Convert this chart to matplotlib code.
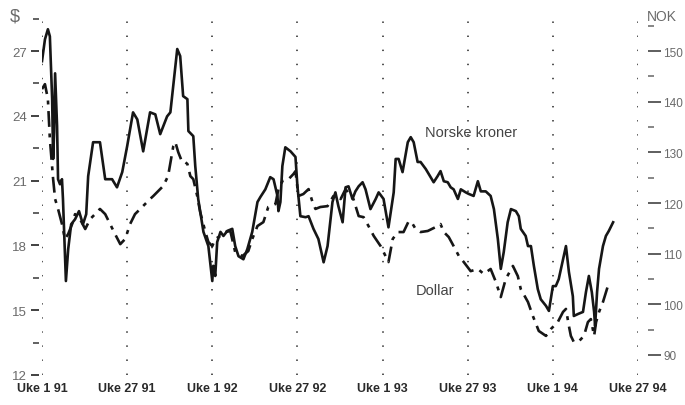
import matplotlib
matplotlib.use("Agg")
import matplotlib.pyplot as plt
from matplotlib.ticker import MultipleLocator

plt.rcParams['font.family'] = ['Liberation Sans', 'DejaVu Sans']

# x in weeks counted from Uke 1 1991
tick_weeks = [0, 26, 52, 78, 104, 130, 156, 182]
tick_labels = ['Uke 1 91', 'Uke 27 91', 'Uke 1 92', 'Uke 27 92',
               'Uke 1 93', 'Uke 27 93', 'Uke 1 94', 'Uke 27 94']

# oil price in norske kroner (right axis)
nok_weeks = [0, 0.9, 1.8, 2.4, 3.1, 3.4, 3.7, 4.0, 4.6, 4.9,
             5.5, 6.1, 6.4, 7.3, 8.0, 8.9, 10.1, 11.3, 12.5, 13.5,
             14.1, 15.6, 17.7, 19.3, 21.4, 22.9, 24.5, 26.0, 27.8, 29.1,
             30.9, 33.0, 34.6, 36.1, 38.2, 39.2, 41.3, 42.2, 43.1, 44.4,
             44.7, 46.2, 46.8, 47.7, 49.3, 50.8, 52.0, 52.3, 52.9, 53.5,
             54.5, 55.4, 56.6, 58.1, 59.0, 60.0, 61.5, 62.7, 64.2, 65.8,
             66.7, 68.2, 69.7, 70.7, 71.9, 72.2, 72.8, 73.4, 74.3, 75.9,
             77.4, 78.0, 78.9, 80.5, 81.4, 82.9, 84.4, 86.0, 87.2, 88.7,
             89.6, 90.5, 91.8, 92.7, 93.6, 94.8, 95.7, 96.7, 97.9, 98.8,
             100.3, 101.9, 102.8, 104.3, 105.8, 107.4, 108.0, 108.9, 110.1, 111.7,
             112.6, 113.5, 114.7, 115.6, 117.2, 118.7, 119.6, 120.8, 121.7, 122.7,
             123.9, 124.8, 125.7, 127.0, 127.9, 129.4, 130.3, 131.8, 133.1, 134.0,
             135.5, 137.0, 138.0, 139.2, 140.1, 141.0, 142.2, 143.2, 144.7, 145.6,
             146.2, 147.7, 148.4, 149.3, 150.2, 151.4, 152.3, 153.9, 154.8, 156.0,
             156.9, 157.8, 160.0, 160.9, 162.1, 162.4, 163.7, 165.2, 166.1, 167.0,
             167.9, 168.6, 168.9, 169.5, 170.1, 171.3, 172.2, 173.1, 174.4]
nok = [148.0, 152.3, 154.3, 152.9, 140.5, 128.7, 134.0, 145.6, 135.2, 124.7,
       123.7, 124.7, 120.8, 104.6, 110.9, 115.8, 116.8, 118.4, 115.8, 117.8,
       125.3, 132.0, 132.0, 124.7, 124.7, 123.1, 126.1, 131.2, 137.9, 136.5,
       130.2, 137.9, 137.5, 133.6, 137.1, 137.9, 150.4, 149.0, 141.1, 140.5,
       134.2, 133.2, 127.3, 120.8, 114.3, 111.5, 104.6, 107.6, 105.6, 112.3,
       114.3, 113.5, 114.5, 114.9, 111.5, 109.5, 108.9, 110.9, 114.3, 120.2,
       121.2, 122.7, 125.1, 124.7, 121.4, 118.4, 120.2, 127.3, 131.0, 130.2,
       129.1, 123.3, 117.4, 117.2, 117.4, 114.9, 112.9, 108.3, 111.5, 120.2,
       122.1, 119.4, 116.2, 123.1, 123.3, 120.8, 122.3, 123.3, 124.1, 122.7,
       118.8, 120.8, 122.1, 120.8, 115.2, 122.1, 128.7, 128.7, 126.1, 132.0,
       133.0, 132.0, 128.1, 128.1, 126.7, 125.1, 124.1, 125.3, 126.3, 124.3,
       124.1, 123.1, 122.7, 120.8, 122.7, 122.1, 121.8, 121.4, 124.3, 122.3,
       122.3, 121.4, 118.8, 112.9, 107.0, 110.3, 116.2, 118.8, 118.4, 117.4,
       114.9, 113.5, 111.5, 111.5, 107.6, 103.0, 101.0, 99.7, 98.7, 103.6,
       103.6, 105.0, 111.5, 106.4, 101.6, 97.7, 98.1, 98.5, 102.4, 105.6,
       102.4, 98.5, 95.7, 102.4, 107.0, 111.5, 113.5, 114.5, 116.2]

# oil price in dollar (left axis)
usd_weeks = [0, 0.9, 1.8, 2.4, 3.4, 4.0, 4.9, 6.1, 7.0, 8.0,
             9.2, 10.1, 11.6, 13.2, 14.7, 16.2, 17.7, 19.3, 20.8, 22.3,
             23.9, 25.4, 26.9, 28.4, 30.0, 31.5, 33.0, 34.0, 35.5, 37.0,
             38.5, 40.1, 40.7, 41.6, 42.8, 43.7, 44.4, 45.3, 46.2, 47.4,
             48.3, 49.9, 50.8, 52.0, 52.9, 54.5, 56.0, 57.5, 59.0, 61.2,
             63.0, 64.2, 65.8, 67.6, 69.1, 71.3, 72.2, 73.4, 75.3, 76.8,
             77.4, 78.3, 79.8, 81.4, 82.6, 83.5, 85.0, 87.2, 89.0, 91.2,
             92.7, 94.2, 95.1, 96.7, 98.2, 99.7, 101.3, 103.4, 104.9, 105.8,
             107.1, 108.6, 110.4, 112.0, 113.2, 114.1, 115.6, 117.8, 120.2, 121.7,
             122.7, 124.2, 125.7, 127.3, 128.8, 130.9, 133.1, 134.9, 137.0, 138.6,
             140.1, 141.6, 143.8, 145.3, 146.2, 148.4, 149.9, 151.7, 153.9, 155.4,
             157.5, 159.1, 160.0, 160.9, 161.5, 162.4, 164.0, 165.5, 166.7, 167.6,
             168.6, 169.2, 170.1, 171.3, 172.8]
usd = [25.24, 25.47, 24.78, 22.93, 21.07, 20.15, 19.69, 18.99, 18.30, 18.53,
       18.99, 19.45, 19.22, 18.76, 19.22, 19.45, 19.69, 19.45, 18.99, 18.53,
       18.06, 18.30, 18.99, 19.45, 19.69, 19.92, 20.15, 20.29, 20.52, 20.75,
       21.21, 22.60, 22.79, 22.32, 21.86, 21.86, 21.77, 21.21, 21.07, 20.29,
       19.55, 18.62, 18.16, 17.97, 18.30, 18.44, 18.62, 18.67, 17.69, 17.51,
       17.74, 18.30, 18.90, 19.08, 19.78, 19.92, 20.61, 20.98, 21.07, 21.31,
       21.44, 20.29, 20.38, 20.61, 20.01, 19.69, 19.78, 19.82, 20.29, 20.15,
       20.61, 20.29, 20.15, 19.36, 19.31, 18.90, 18.44, 17.97, 17.51, 17.23,
       18.30, 18.62, 18.62, 19.13, 18.99, 18.76, 18.62, 18.67, 18.85, 18.99,
       18.62, 18.39, 17.97, 17.51, 17.23, 16.81, 16.91, 16.68, 16.91, 16.31,
       15.61, 16.44, 17.05, 16.58, 15.98, 15.38, 14.73, 14.04, 13.81, 14.13,
       14.45, 14.92, 15.06, 14.27, 13.81, 13.53, 13.57, 13.81, 14.45, 14.59,
       13.81, 14.45, 14.92, 15.38, 16.12]

grey = '#6a6a6a'
ink = '#161616'

fig = plt.figure(figsize=(6.85, 4.06), dpi=100)
ax = fig.add_axes([42/685, 30/406, 596/685, 366/406])
ax2 = ax.twinx()

ax.set_xlim(0, 182)
ax.set_ylim(12, 28.95)
ax2.set_ylim(86.05, 158.3)

# dotted verticals (axes included)
for w in tick_weeks:
    ax.axvline(w, color='#444444', lw=1.3, ls=(0, (0.8, 7)), zorder=1)

ax.plot(usd_weeks, usd, color=ink, lw=1.9, ls=(0, (6, 2.5, 1.5, 2.5)), zorder=3)
ax2.plot(nok_weeks, nok, color=ink, lw=1.9, zorder=3)

for a in (ax, ax2):
    for s in a.spines.values():
        s.set_visible(False)

ax.spines['left'].set_position(('outward', 2))
ax2.spines['right'].set_position(('outward', 7))

ax.yaxis.set_major_locator(MultipleLocator(3))
ax.yaxis.set_minor_locator(MultipleLocator(1.5))
ax.tick_params(axis='y', which='major', length=6, width=1.3, color='#333333',
               labelcolor=grey, labelsize=9.5, pad=3)
ax.tick_params(axis='y', which='minor', length=4, width=1.3, color='#555555')

ax2.yaxis.set_major_locator(MultipleLocator(10))
ax2.yaxis.set_minor_locator(MultipleLocator(5))
ax2.tick_params(axis='y', which='major', length=9, width=1.1, color='#333333',
                labelcolor=grey, labelsize=8.5, pad=2)
ax2.tick_params(axis='y', which='minor', length=4, width=1.1, color='#666666')

ax.set_xticks(tick_weeks)
ax.set_xticklabels(tick_labels, fontweight='bold', color='#2a2a2a')
ax.tick_params(axis='x', length=0, labelsize=9, pad=5)

ax.text(-0.045, 0.98, '$', transform=ax.transAxes, ha='center', va='center',
        fontsize=13, color=grey)
ax.text(1.04, 0.98, 'NOK', transform=ax.transAxes, ha='center', va='center',
        fontsize=10, color=grey)

ax.text(130.9, 23.25, 'Norske kroner', ha='center', va='center',
        fontsize=10.5, color='#444444')
ax.text(119.9, 15.94, 'Dollar', ha='center', va='center',
        fontsize=10.5, color='#444444')

fig.savefig('out.png', dpi=100, facecolor='white')
